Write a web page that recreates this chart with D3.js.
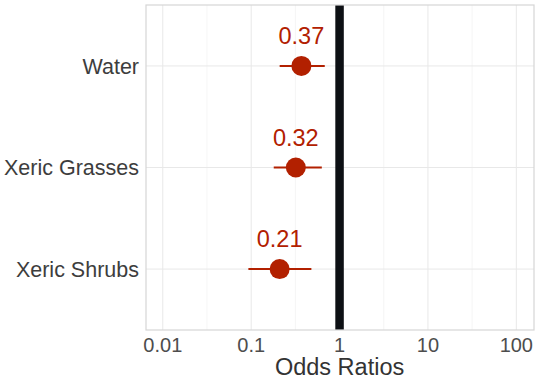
<!DOCTYPE html>
<html>
<head>
<meta charset="utf-8">
<script src="https://cdn.jsdelivr.net/npm/d3@7"></script>
<style>
  body { margin: 0; background: #fff; }
  text { font-family: "Liberation Sans", Arial, sans-serif; }
</style>
</head>
<body>
<div id="chart"></div>
<script>
// odds ratio plot, log x scale, one row per cover type
var categories = ["Water", "Xeric Grasses", "Xeric Shrubs"],
    oddsRatio  = [0.37, 0.32, 0.21],
    ciLow      = [0.21, 0.18, 0.093],
    ciHigh     = [0.68, 0.63, 0.48],
    xTicks     = [0.01, 0.1, 1, 10, 100],
    xMinor     = [Math.pow(10, -1.5), Math.pow(10, -0.5), Math.pow(10, 0.5), Math.pow(10, 1.5)];

var width = 540, height = 386,
    margin = {top: 5, right: 6, bottom: 56, left: 146},
    pw = width - margin.left - margin.right,
    ph = height - margin.top - margin.bottom,
    red = "#b22000";

var svg = d3.select("#chart").append("svg")
    .attr("width", width)
    .attr("height", height);

var g = svg.append("g")
    .attr("transform", "translate(" + margin.left + "," + margin.top + ")");

var x = d3.scaleLog().domain([Math.pow(10, -2.19), Math.pow(10, 2.2)]).range([0, pw]);
// discrete scale with ggplot's 0.6 expansion
var y = d3.scaleLinear().domain([0.4, 3.6]).range([0, ph]);
var yPos = function(i) { return y(i + 1); };

// grid
g.selectAll(".minor").data(xMinor).enter().append("line")
    .attr("x1", d => x(d)).attr("x2", d => x(d))
    .attr("y1", 0).attr("y2", ph)
    .attr("stroke", "#f2f2f2").attr("stroke-width", 0.8);
g.selectAll(".major").data(xTicks).enter().append("line")
    .attr("x1", d => x(d)).attr("x2", d => x(d))
    .attr("y1", 0).attr("y2", ph)
    .attr("stroke", "#e8e8e8").attr("stroke-width", 1);
g.selectAll(".hgrid").data(categories).enter().append("line")
    .attr("x1", 0).attr("x2", pw)
    .attr("y1", (d, i) => yPos(i)).attr("y2", (d, i) => yPos(i))
    .attr("stroke", "#e8e8e8").attr("stroke-width", 1);

// reference line at 1
g.append("line")
    .attr("x1", x(1)).attr("x2", x(1))
    .attr("y1", 0).attr("y2", ph)
    .attr("stroke", "#0d1014").attr("stroke-width", 8.5);

// error bars
g.selectAll(".ci").data(categories).enter().append("line")
    .attr("x1", (d, i) => x(ciLow[i])).attr("x2", (d, i) => x(ciHigh[i]))
    .attr("y1", (d, i) => yPos(i)).attr("y2", (d, i) => yPos(i))
    .attr("stroke", red).attr("stroke-width", 2);

// points
g.selectAll(".pt").data(categories).enter().append("circle")
    .attr("cx", (d, i) => x(oddsRatio[i]))
    .attr("cy", (d, i) => yPos(i))
    .attr("r", 10)
    .attr("fill", red);

// value labels
g.selectAll(".lab").data(categories).enter().append("text")
    .attr("x", (d, i) => x(oddsRatio[i]))
    .attr("y", (d, i) => yPos(i) - 22)
    .attr("text-anchor", "middle")
    .attr("font-size", 23.5)
    .attr("fill", red)
    .text((d, i) => oddsRatio[i].toFixed(2));

// panel border
g.append("rect")
    .attr("width", pw).attr("height", ph)
    .attr("fill", "none").attr("stroke", "#d6d6d6").attr("stroke-width", 1.2);

// x tick labels
g.selectAll(".xt").data(xTicks).enter().append("text")
    .attr("x", d => x(d))
    .attr("y", ph + 22)
    .attr("text-anchor", "middle")
    .attr("font-size", 20)
    .attr("fill", "#4d4d4d")
    .text(d => d3.format("")(d));

// y tick labels
g.selectAll(".yt").data(categories).enter().append("text")
    .attr("x", -7)
    .attr("y", (d, i) => yPos(i))
    .attr("dy", "0.36em")
    .attr("text-anchor", "end")
    .attr("font-size", 21.5)
    .attr("fill", "#3d3d3d")
    .text(d => d);

// axis title
svg.append("text")
    .attr("x", margin.left + x(1))
    .attr("y", 375)
    .attr("text-anchor", "middle")
    .attr("font-size", 23.5)
    .attr("fill", "#333")
    .text("Odds Ratios");
</script>
</body>
</html>
